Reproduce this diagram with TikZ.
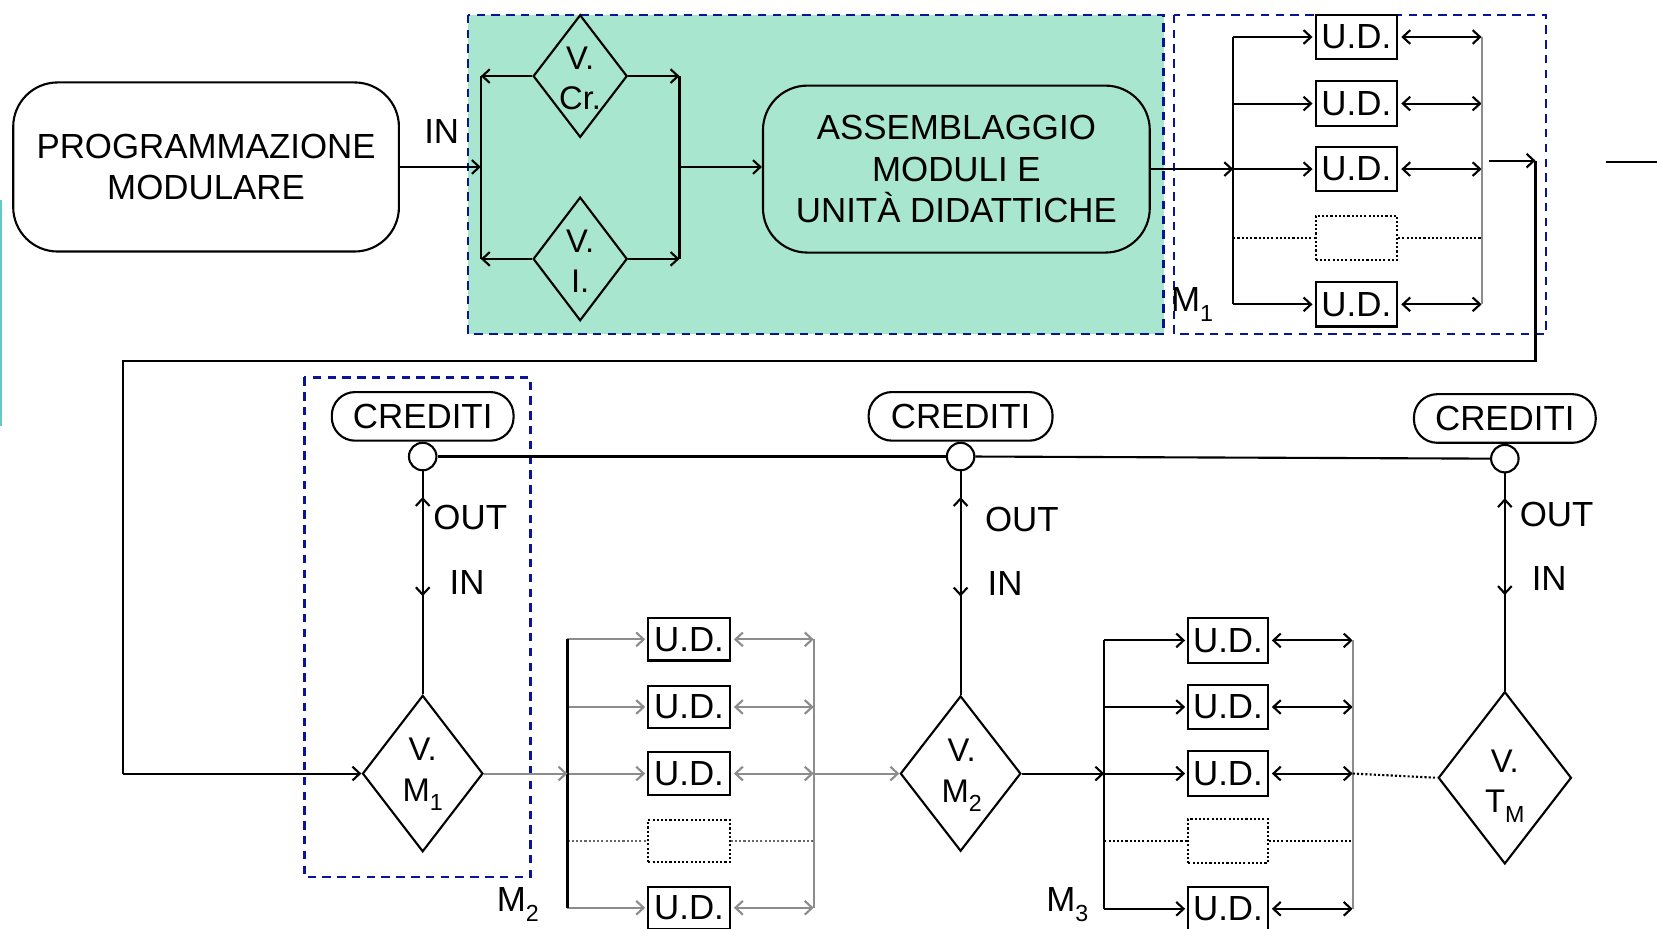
\documentclass[tikz,border=0pt]{standalone}
\usepackage{fontspec}
\setmainfont{Liberation Sans}
\usetikzlibrary{shapes.geometric,arrows.meta,decorations.markings}
\definecolor{navy}{RGB}{10,20,150}
\definecolor{mint}{RGB}{168,230,208}
\definecolor{edgeteal}{RGB}{100,200,200}
\newcommand{\lsub}[1]{\raisebox{-0.3em}{\fontsize{22}{22}\selectfont #1}}
\begin{document}
\begin{tikzpicture}[x=1pt,y=-1pt,
  font=\fontsize{33}{39}\selectfont,
  >={Straight Barb[length=7pt,width=13pt]},
  ln/.style={line width=2pt, draw=black},
  gln/.style={line width=2pt, draw=black!45},
  dln/.style={line width=2pt, dotted},
  frame/.style={draw=navy, line width=2.4pt, dash pattern=on 8pt off 6pt},
  rbox/.style={draw, line width=2pt, rounded corners=42pt, align=center, inner sep=0pt},
  udbox/.style={draw, line width=2pt, minimum width=77pt, minimum height=42pt, inner sep=0pt},
  dotbox/.style={udbox, dotted},
  dia/.style={diamond, draw, line width=2pt, inner sep=0pt},
  diatext/.style={inner sep=0pt, align=center, font=\fontsize{31}{38}\selectfont},
  pill/.style={draw, line width=2pt, rounded corners=22pt, minimum height=46pt, inner sep=0pt},
  knob/.style={circle, draw, fill=white, line width=2pt, minimum size=26pt, inner sep=0pt},
  lbl/.style={inner sep=0pt},
  updown/.style={ln, postaction={decorate},
    decoration={markings, mark=at position 0.16 with {\arrow{<}},
                          mark=at position 0.56 with {\arrow{>}}}}
]
\useasboundingbox (0,0) rectangle (1568,879);

% ---------- top row ----------
\fill[mint] (443,14) rectangle (1101,316);
\draw[frame] (443,14) rectangle (1101,316);
\draw[frame] (1111,14) rectangle (1463,316);

\node[rbox, minimum width=365pt, minimum height=160pt] (prog) at (195,158)
  {PROGRAMMAZIONE\\MODULARE};
\node[lbl] (intop) at (418,124) {IN};

\node[dia, minimum width=89pt, minimum height=116pt] (vcr) at (549,72) {};
\node[diatext] (vcrt) at (549,74) {V.\\Cr.};
\node[dia, minimum width=89pt, minimum height=117pt] (vi) at (549,245) {};
\node[diatext] (vit) at (549,247) {V.\\I.};

\coordinate (gl1) at (455,72);
\coordinate (gl2) at (455,158);
\coordinate (gl3) at (455,245);
\coordinate (gr1) at (643,72);
\coordinate (gr2) at (643,158);
\coordinate (gr3) at (643,245);
\draw[ln,->] (prog.east) -- (gl2);
\draw[ln] (gl1) -- (gl3);
\draw[ln] (gr1) -- (gr3);
\draw[ln,->] (vcr.west) -- (gl1);
\draw[ln,->] (vi.west) -- (gl3);
\draw[ln,->] (vcr.east) -- (gr1);
\draw[ln,->] (vi.east) -- (gr3);

\node[rbox, minimum width=366pt, minimum height=158pt] (asm) at (905,160)
  {ASSEMBLAGGIO\\MODULI E\\UNITÀ DIDATTICHE};
\draw[ln,->] (gr2) -- (gr2 -| asm.west);

% M1 group
\foreach \i/\y in {1/35,2/98,3/160,4/225,5/288}{
  \coordinate (al\i) at (1167,\y);
  \coordinate (ar\i) at (1402,\y);
}
\foreach \i/\y in {1/35,2/98,3/160,5/288}{
  \node[udbox] (a\i) at (1283.5,\y) {U.D.};
  \draw[ln,->,shorten >=2pt] (al\i) -- (a\i.west);
  \draw[ln,<->,shorten <=3pt] (a\i.east) -- (ar\i);
}
\node[dotbox] (a4) at (1283.5,225) {};
\draw[dln] (al4) -- (a4.west);
\draw[dln] (a4.east) -- (ar4);
\draw[ln] (al1) -- (al5);
\draw[gln] (ar1) -- (ar5);
\draw[ln,->] (asm.east) -- (al3);
\node[lbl] (m1lab) at (1128,288) {M\lsub{1}};

% loop back
\coordinate (t1) at (1409,152);
\coordinate (t2) at (1453,152);
\coordinate (t3) at (1453,342);
\coordinate (t4) at (116,342);
\coordinate (t5) at (116,732);
\draw[ln,->] (t1) -- (t2);
\draw[ln] (t2) -- (t3) -- (t4) -- (t5);

% ---------- bottom row ----------
\draw[frame] (288,357) rectangle (502,830);

\node[pill, minimum width=172pt] (cr1) at (400,394) {CREDITI};
\node[pill, minimum width=174pt] (cr2) at (909,394) {CREDITI};
\node[pill, minimum width=172pt] (cr3) at (1424,396) {CREDITI};
\node[knob] (k1) at (400,432) {};
\node[knob] (k2) at (909,432) {};
\node[knob] (k3) at (1424,434) {};
\draw[ln] (k1.east) -- (k2.west);
\draw[ln] (k2.east) -- (k3.west);

\node[dia, minimum width=114pt, minimum height=148pt] (vm1) at (400,732) {};
\node[diatext] (vm1t) at (400,733) {V.\\M\lsub{1}};
\node[dia, minimum width=114pt, minimum height=147pt] (vm2) at (909,732) {};
\node[diatext] (vm2t) at (910,734) {V.\\M\lsub{2}};
\node[dia, minimum width=126pt, minimum height=163pt] (vtm) at (1424,736) {};
\node[diatext] (vtmt) at (1424,744) {V.\\T\lsub{M}};

\draw[ln,->] (t5) -- (vm1.west);

\draw[updown] (k1.south) -- (vm1.north);
\draw[updown] (k2.south) -- (vm2.north);
\draw[updown] (k3.south) -- (vtm.north);
\node[lbl] (out1) at (445,490) {OUT};
\node[lbl] (in1) at (442,551) {IN};
\node[lbl] (out2) at (967,492) {OUT};
\node[lbl] (in2) at (951,552) {IN};
\node[lbl] (out3) at (1473,487) {OUT};
\node[lbl] (in3) at (1466,547) {IN};

% M2 group
\foreach \i/\y in {1/605,2/669,3/732,4/796,5/859}{
  \coordinate (bl\i) at (537,\y);
  \coordinate (br\i) at (770,\y);
}
\foreach \i/\y in {1/605,2/669,3/732,5/859}{
  \node[udbox, minimum height=40pt] (b\i) at (652,\y) {U.D.};
  \draw[gln,->,shorten >=2pt] (bl\i) -- (b\i.west);
  \draw[gln,<->,shorten <=3pt] (b\i.east) -- (br\i);
}
\node[dotbox, minimum height=40pt] (b4) at (652,796) {};
\draw[dln, black!60] (bl4) -- (b4.west);
\draw[dln, black!60] (b4.east) -- (br4);
\draw[ln] (bl1) -- (bl5);
\draw[gln] (br1) -- (br5);
\draw[gln,->] (vm1.east) -- (bl3);
\node[lbl] (m2lab) at (490,856) {M\lsub{2}};

% M3 group
\foreach \i/\y in {1/606,2/669,3/732,4/796,5/860}{
  \coordinate (cl\i) at (1045,\y);
  \coordinate (cr\i) at (1280,\y);
}
\foreach \i/\y in {1/606,2/669,3/732,5/860}{
  \node[udbox, minimum width=75pt] (c\i) at (1162,\y) {U.D.};
  \draw[ln,->,shorten >=2pt] (cl\i) -- (c\i.west);
  \draw[ln,<->,shorten <=3pt] (c\i.east) -- (cr\i);
}
\node[dotbox, minimum width=75pt] (c4) at (1162,796) {};
\draw[dln] (cl4) -- (c4.west);
\draw[dln] (c4.east) -- (cr4);
\draw[ln] (cl1) -- (cl5);
\draw[gln] (cr1) -- (cr5);
\draw[gln,->] (br3) -- (vm2.west);
\draw[ln,->] (vm2.east) -- (cl3);
\draw[dln] (cr3) -- (vtm.west);
\node[lbl] (m3lab) at (1010,856) {M\lsub{3}};

% cropped fragments at the edges
\coordinate (e1) at (1,189);
\coordinate (e2) at (1,403);
\draw[line width=2pt, edgeteal] (e1) -- (e2);
\coordinate (e3) at (1520,153);
\coordinate (e4) at (1568,153);
\draw[ln] (e3) -- (e4);
\end{tikzpicture}
\end{document}
